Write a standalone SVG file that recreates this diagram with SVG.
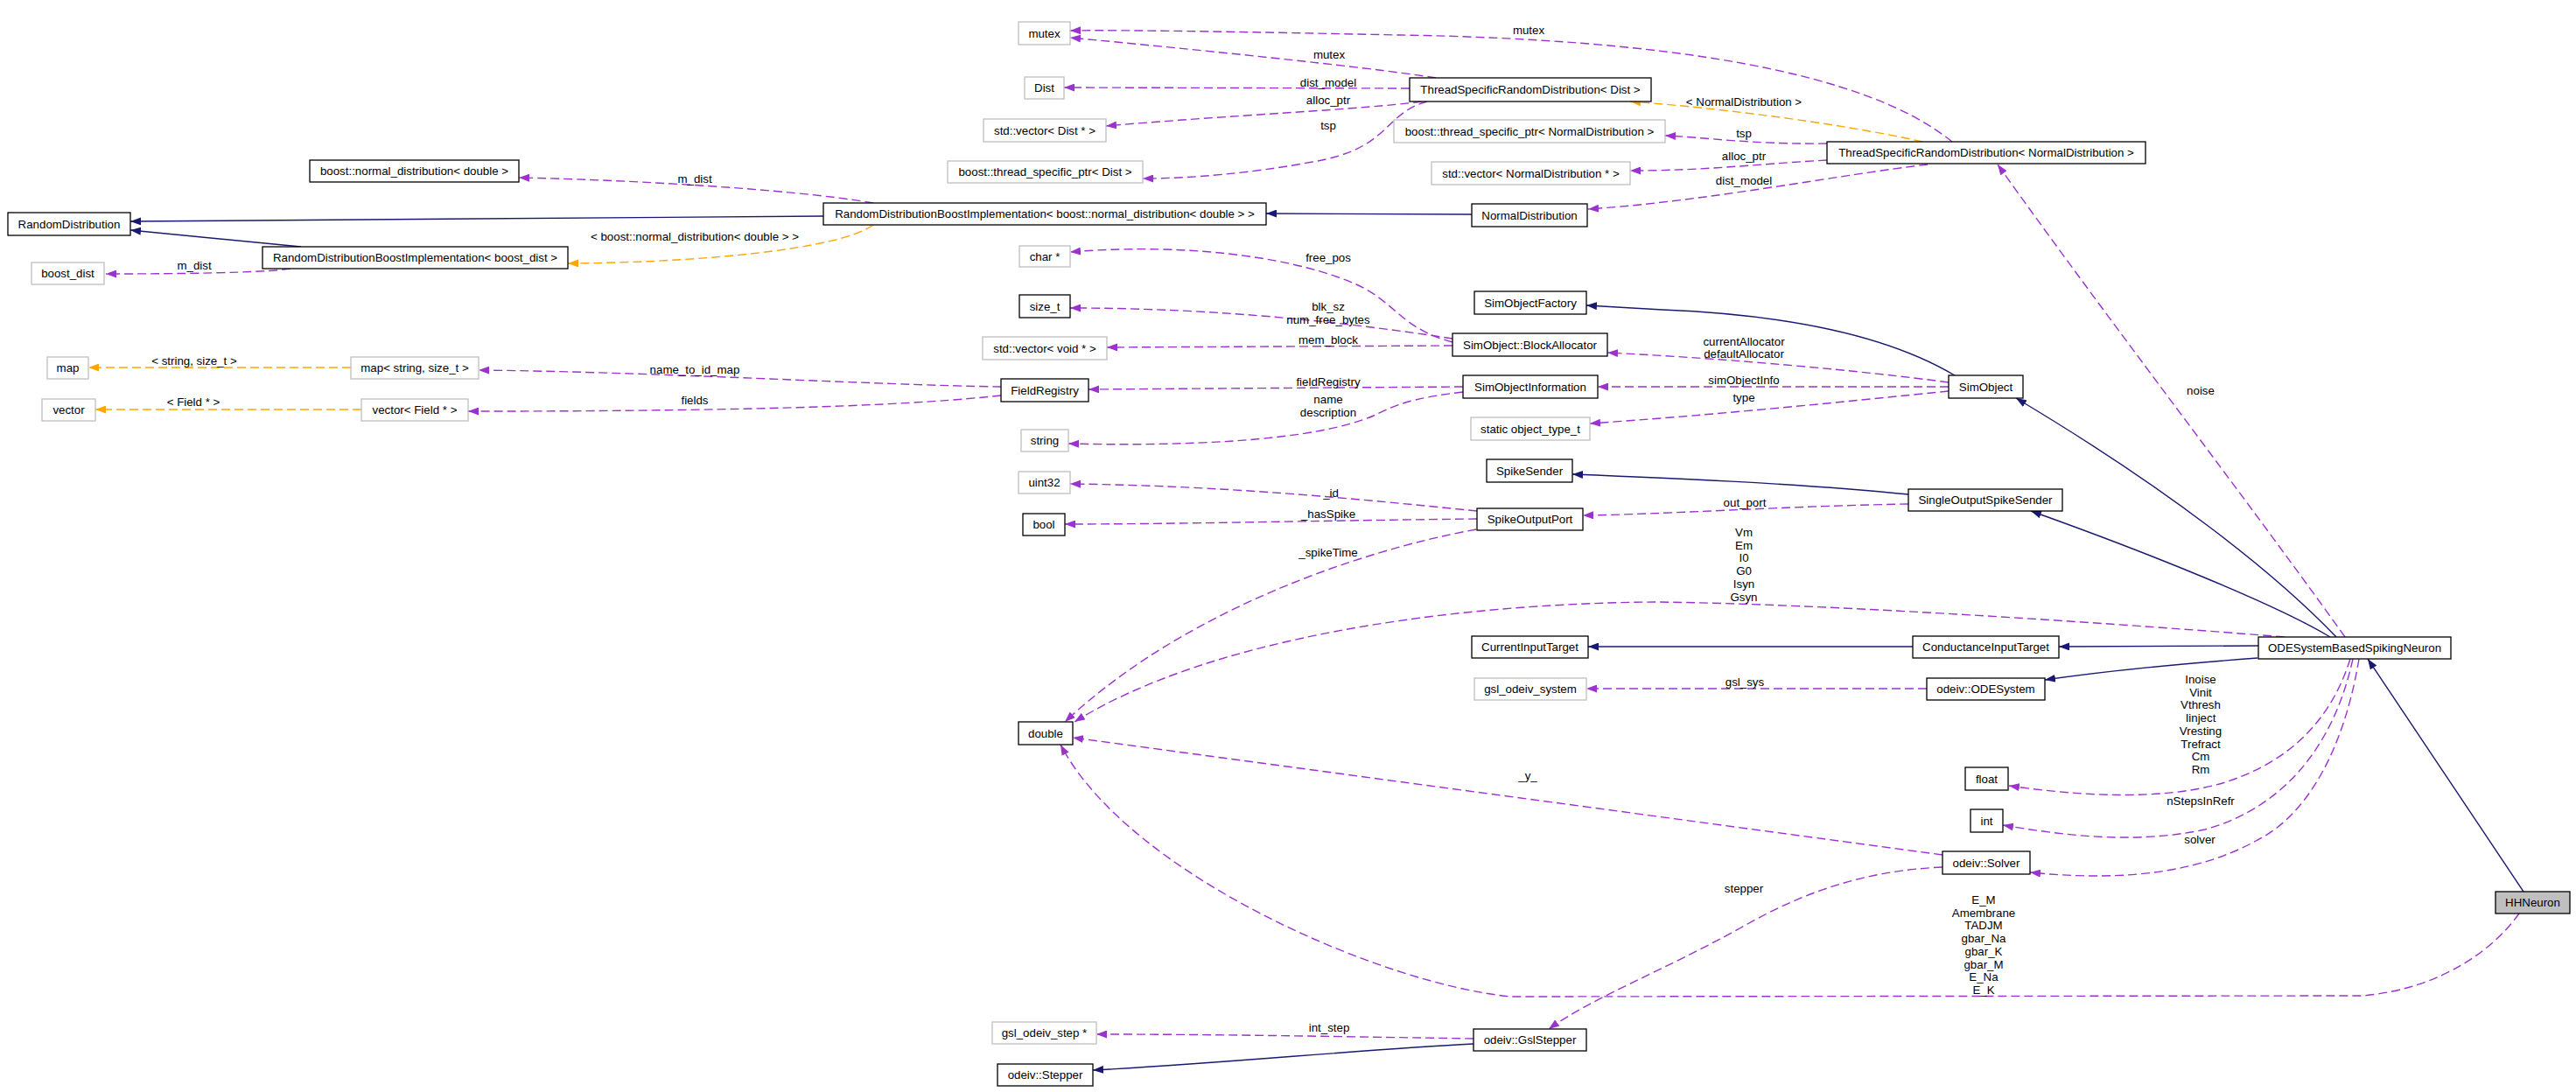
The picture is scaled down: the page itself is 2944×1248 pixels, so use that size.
<svg xmlns="http://www.w3.org/2000/svg" width="2944" height="1248" viewBox="0 0 2944 1248">
<style>
text{font-family:"Liberation Sans",Arial,sans-serif;font-size:13.3px;fill:#000;text-anchor:middle}
.n rect{fill:#fff;stroke:#000;stroke-width:1.3}
.g rect{fill:#fff;stroke:#bfbfbf;stroke-width:1.3}
.h rect{fill:#bfbfbf;stroke:#000;stroke-width:1.3}
.inh{fill:none;stroke:#191970;stroke-width:1.4;marker-end:url(#an)}
.use{fill:none;stroke:#9a32cd;stroke-width:1.4;stroke-dasharray:10,5;marker-end:url(#ap)}
.tpl{fill:none;stroke:#ffa500;stroke-width:1.4;stroke-dasharray:10,5;marker-end:url(#ao)}
</style>
<defs>
<marker id="an" viewBox="0 0 12 9" refX="12" refY="4.5" markerWidth="12" markerHeight="9" markerUnits="userSpaceOnUse" orient="auto"><path d="M0,0 L12,4.5 L0,9 z" fill="#191970"/></marker>
<marker id="ap" viewBox="0 0 12 9" refX="12" refY="4.5" markerWidth="12" markerHeight="9" markerUnits="userSpaceOnUse" orient="auto"><path d="M0,0 L12,4.5 L0,9 z" fill="#9a32cd"/></marker>
<marker id="ao" viewBox="0 0 12 9" refX="12" refY="4.5" markerWidth="12" markerHeight="9" markerUnits="userSpaceOnUse" orient="auto"><path d="M0,0 L12,4.5 L0,9 z" fill="#ffa500"/></marker>
</defs>
<rect width="2944" height="1248" fill="#fff"/>
<g id="edges">
<path class="inh" d="M941,247 L149,253"/>
<path class="inh" d="M344,282 L149,263"/>
<path class="use" d="M332,307 C300,312 200,313 121,313"/>
<path class="use" d="M998,232 C900,215 700,205 593,203"/>
<path class="tpl" d="M998,257 C960,285 800,300 649,301"/>
<path class="inh" d="M1682,245 L1447,244"/>
<path class="use" d="M1641,89 C1560,76 1350,55 1223,43"/>
<path class="use" d="M2231,162 C2130,80 1900,45 1600,40 C1450,37 1300,34 1223,35"/>
<path class="use" d="M1611,101 L1216,100"/>
<path class="use" d="M1625,116 C1560,125 1400,132 1264,144"/>
<path class="use" d="M1631,116 C1580,130 1590,170 1500,185 C1430,198 1360,204 1306,204"/>
<path class="tpl" d="M2197,162 C2100,140 1950,122 1863,116"/>
<path class="use" d="M2088,164 C2000,165 1950,157 1903,155"/>
<path class="use" d="M2088,183 C2000,188 1950,195 1863,195"/>
<path class="use" d="M2203,188 C2100,200 1950,230 1815,239"/>
<path class="use" d="M2680,728 C2560,560 2420,380 2283,188"/>
<path class="use" d="M1144,442 C1000,440 750,425 547,423"/>
<path class="use" d="M1144,452 C1050,462 900,470 535,470"/>
<path class="tpl" d="M401,420 L101,420"/>
<path class="tpl" d="M413,468 L109,468"/>
<path class="use" d="M1660,391 C1600,375 1595,345 1550,325 C1490,298 1370,276 1223,288"/>
<path class="use" d="M1660,387 C1550,370 1400,352 1223,352"/>
<path class="use" d="M1660,395 L1265,397"/>
<path class="use" d="M1672,442 L1244,445"/>
<path class="use" d="M1672,448 C1610,455 1590,465 1570,475 C1500,505 1350,510 1221,507"/>
<path class="inh" d="M2234,429 C2160,385 2050,360 1900,354 L1813,349"/>
<path class="use" d="M2227,437 C2130,424 1980,410 1837,403"/>
<path class="use" d="M2227,442 L1826,442"/>
<path class="use" d="M2227,447 C2100,460 1950,475 1817,484"/>
<path class="inh" d="M2670,728 C2600,655 2480,560 2304,455"/>
<path class="inh" d="M2663,728 C2600,690 2450,630 2321,584"/>
<path class="inh" d="M2181,565 C2050,552 1900,546 1797,542"/>
<path class="use" d="M2181,576 C2050,578 1900,588 1809,589"/>
<path class="use" d="M1688,584 C1550,570 1400,555 1223,553"/>
<path class="use" d="M1688,593 C1500,595 1350,599 1217,599"/>
<path class="use" d="M1687,605 C1550,630 1350,700 1217,825"/>
<path class="use" d="M2611,728 C2450,715 2100,690 1891,688 C1650,690 1380,730 1228,825"/>
<path class="inh" d="M2581,738 L2353,739"/>
<path class="inh" d="M2186,739 L1815,739"/>
<path class="inh" d="M2580,752 C2500,758 2420,765 2337,777"/>
<path class="use" d="M2202,787 L1813,787"/>
<path class="use" d="M2686,753 C2665,820 2620,870 2540,895 C2470,915 2380,910 2296,898"/>
<path class="use" d="M2689,753 C2670,840 2620,920 2520,948 C2440,965 2360,955 2289,943"/>
<path class="use" d="M2696,753 C2680,850 2640,930 2580,960 C2500,1005 2400,1005 2320,997"/>
<path class="inh" d="M2884,1019 L2706,753"/>
<path class="use" d="M2879,1044 C2850,1085 2790,1130 2700,1138 L1727,1139 C1580,1125 1290,1000 1212,851"/>
<path class="use" d="M2220,977 L1226,843"/>
<path class="use" d="M2220,991 C2130,995 2060,1020 1990,1060 C1900,1110 1820,1140 1770,1176"/>
<path class="use" d="M1684,1187 C1550,1185 1400,1182 1253,1182"/>
<path class="inh" d="M1684,1193 C1550,1200 1400,1215 1249,1223"/>
</g>
<g id="edge-labels">
<text x="794" y="209">m_dist</text>
<text x="794" y="275">&lt; boost::normal_distribution&lt; double &gt; &gt;</text>
<text x="222" y="308">m_dist</text>
<text x="1747" y="39">mutex</text>
<text x="1519" y="67">mutex</text>
<text x="1518" y="99">dist_model</text>
<text x="1518" y="119">alloc_ptr</text>
<text x="1518" y="148">tsp</text>
<text x="1993" y="121">&lt; NormalDistribution &gt;</text>
<text x="1993" y="157">tsp</text>
<text x="1993" y="183">alloc_ptr</text>
<text x="1993" y="211">dist_model</text>
<text x="2515" y="451">noise</text>
<text x="222" y="417">&lt; string, size_t &gt;</text>
<text x="221" y="464">&lt; Field * &gt;</text>
<text x="794" y="427">name_to_id_map</text>
<text x="794" y="462">fields</text>
<text x="1518" y="299">free_pos</text>
<text x="1518" y="355">blk_sz<tspan x="1518" dy="14.5">num_free_bytes</tspan></text>
<text x="1518" y="393">mem_block</text>
<text x="1518" y="441">fieldRegistry</text>
<text x="1518" y="461">name<tspan x="1518" dy="14.5">description</tspan></text>
<text x="1521" y="568">_id</text>
<text x="1518" y="592">_hasSpike</text>
<text x="1518" y="636">_spikeTime</text>
<text x="1993" y="395">currentAllocator<tspan x="1993" dy="14">defaultAllocator</tspan></text>
<text x="1993" y="439">simObjectInfo</text>
<text x="1993" y="459">type</text>
<text x="1994" y="579">out_port</text>
<text x="1993" y="613">Vm<tspan x="1993" dy="14.7">Em</tspan><tspan x="1993" dy="14.7">I0</tspan><tspan x="1993" dy="14.7">G0</tspan><tspan x="1993" dy="14.7">Isyn</tspan><tspan x="1993" dy="14.7">Gsyn</tspan></text>
<text x="1994" y="784">gsl_sys</text>
<text x="2515" y="781">Inoise<tspan x="2515" dy="14.7">Vinit</tspan><tspan x="2515" dy="14.7">Vthresh</tspan><tspan x="2515" dy="14.7">Iinject</tspan><tspan x="2515" dy="14.7">Vresting</tspan><tspan x="2515" dy="14.7">Trefract</tspan><tspan x="2515" dy="14.7">Cm</tspan><tspan x="2515" dy="14.7">Rm</tspan></text>
<text x="2515" y="920">nStepsInRefr</text>
<text x="2514" y="964">solver</text>
<text x="1746" y="891">_y_</text>
<text x="1993" y="1020">stepper</text>
<text x="2267" y="1033">E_M<tspan x="2267" dy="14.7">Amembrane</tspan><tspan x="2267" dy="14.7">TADJM</tspan><tspan x="2267" dy="14.7">gbar_Na</tspan><tspan x="2267" dy="14.7">gbar_K</tspan><tspan x="2267" dy="14.7">gbar_M</tspan><tspan x="2267" dy="14.7">E_Na</tspan><tspan x="2267" dy="14.7">E_K</tspan></text>
<text x="1519" y="1179">int_step</text>
</g>
<g id="RandomDistribution" class="n"><rect x="9" y="243" width="140" height="26"/><text x="79" y="260.5">RandomDistribution</text></g>
<g id="boost_normal_distribution" class="n"><rect x="354" y="183" width="239" height="25"/><text x="473.5" y="200">boost::normal_distribution&lt; double &gt;</text></g>
<g id="RBI_boost_dist" class="n"><rect x="300" y="282" width="349" height="25"/><text x="474.5" y="299">RandomDistributionBoostImplementation&lt; boost_dist &gt;</text></g>
<g id="boost_dist" class="g"><rect x="36" y="300" width="83" height="25"/><text x="77.5" y="317">boost_dist</text></g>
<g id="RBI_normal" class="n"><rect x="941" y="232" width="506" height="25"/><text x="1194" y="249">RandomDistributionBoostImplementation&lt; boost::normal_distribution&lt; double &gt; &gt;</text></g>
<g id="mutex" class="g"><rect x="1164" y="25" width="59" height="26"/><text x="1193.5" y="42.5">mutex</text></g>
<g id="Dist" class="g"><rect x="1171" y="88" width="45" height="25"/><text x="1193.5" y="105">Dist</text></g>
<g id="vector_Dist" class="g"><rect x="1124" y="136" width="140" height="26"/><text x="1194" y="153.5">std::vector&lt; Dist * &gt;</text></g>
<g id="tsp_Dist" class="g"><rect x="1083" y="184" width="223" height="25"/><text x="1194.5" y="201">boost::thread_specific_ptr&lt; Dist &gt;</text></g>
<g id="TSRD_Dist" class="n"><rect x="1611" y="89" width="276" height="27"/><text x="1749" y="107">ThreadSpecificRandomDistribution&lt; Dist &gt;</text></g>
<g id="tsp_Normal" class="g"><rect x="1593" y="137" width="310" height="26"/><text x="1748" y="154.5">boost::thread_specific_ptr&lt; NormalDistribution &gt;</text></g>
<g id="vector_Normal" class="g"><rect x="1636" y="185" width="227" height="26"/><text x="1749.5" y="202.5">std::vector&lt; NormalDistribution * &gt;</text></g>
<g id="NormalDistribution" class="n"><rect x="1682" y="233" width="132" height="26"/><text x="1748" y="250.5">NormalDistribution</text></g>
<g id="TSRD_Normal" class="n"><rect x="2088" y="162" width="364" height="25"/><text x="2270" y="179">ThreadSpecificRandomDistribution&lt; NormalDistribution &gt;</text></g>
<g id="map" class="g"><rect x="54" y="408" width="47" height="25"/><text x="77.5" y="425">map</text></g>
<g id="vector" class="g"><rect x="48" y="456" width="61" height="25"/><text x="78.5" y="473">vector</text></g>
<g id="map_string_size_t" class="g"><rect x="401" y="408" width="146" height="25"/><text x="474" y="425">map&lt; string, size_t &gt;</text></g>
<g id="vector_Field" class="g"><rect x="413" y="456" width="122" height="25"/><text x="474" y="473">vector&lt; Field * &gt;</text></g>
<g id="char_ptr" class="g"><rect x="1165" y="281" width="58" height="24"/><text x="1194" y="297.5">char *</text></g>
<g id="size_t" class="n"><rect x="1165" y="337" width="58" height="26"/><text x="1194" y="354.5">size_t</text></g>
<g id="vector_void" class="g"><rect x="1123" y="385" width="142" height="26"/><text x="1194" y="402.5">std::vector&lt; void * &gt;</text></g>
<g id="FieldRegistry" class="n"><rect x="1144" y="433" width="100" height="26"/><text x="1194" y="450.5">FieldRegistry</text></g>
<g id="string" class="g"><rect x="1167" y="491" width="54" height="25"/><text x="1194" y="508">string</text></g>
<g id="uint32" class="g"><rect x="1164" y="539" width="59" height="25"/><text x="1193.5" y="556">uint32</text></g>
<g id="bool" class="n"><rect x="1169" y="587" width="48" height="25"/><text x="1193" y="604">bool</text></g>
<g id="double" class="n"><rect x="1164" y="825" width="62" height="26"/><text x="1195" y="842.5">double</text></g>
<g id="SimObjectFactory" class="n"><rect x="1685" y="333" width="128" height="26"/><text x="1749" y="350.5">SimObjectFactory</text></g>
<g id="BlockAllocator" class="n"><rect x="1660" y="381" width="177" height="26"/><text x="1748.5" y="398.5">SimObject::BlockAllocator</text></g>
<g id="SimObjectInformation" class="n"><rect x="1672" y="429" width="154" height="26"/><text x="1749" y="446.5">SimObjectInformation</text></g>
<g id="static_object_type_t" class="g"><rect x="1681" y="477" width="136" height="26"/><text x="1749" y="494.5">static object_type_t</text></g>
<g id="SpikeSender" class="n"><rect x="1699" y="525" width="98" height="26"/><text x="1748" y="542.5">SpikeSender</text></g>
<g id="SpikeOutputPort" class="n"><rect x="1688" y="581" width="121" height="25"/><text x="1748.5" y="598">SpikeOutputPort</text></g>
<g id="CurrentInputTarget" class="n"><rect x="1682" y="727" width="133" height="25"/><text x="1748.5" y="744">CurrentInputTarget</text></g>
<g id="gsl_odeiv_system" class="g"><rect x="1685" y="775" width="128" height="25"/><text x="1749" y="792">gsl_odeiv_system</text></g>
<g id="SimObject" class="n"><rect x="2227" y="429" width="85" height="26"/><text x="2269.5" y="446.5">SimObject</text></g>
<g id="SingleOutputSpikeSender" class="n"><rect x="2181" y="559" width="176" height="25"/><text x="2269" y="576">SingleOutputSpikeSender</text></g>
<g id="ConductanceInputTarget" class="n"><rect x="2186" y="727" width="167" height="25"/><text x="2269.5" y="744">ConductanceInputTarget</text></g>
<g id="ODESystem" class="n"><rect x="2202" y="775" width="135" height="25"/><text x="2269.5" y="792">odeiv::ODESystem</text></g>
<g id="ODESystemBasedSpikingNeuron" class="n"><rect x="2581" y="728" width="220" height="25"/><text x="2691" y="745">ODESystemBasedSpikingNeuron</text></g>
<g id="float" class="n"><rect x="2246" y="877" width="49" height="26"/><text x="2270.5" y="894.5">float</text></g>
<g id="int" class="n"><rect x="2252" y="925" width="37" height="26"/><text x="2270.5" y="942.5">int</text></g>
<g id="Solver" class="n"><rect x="2220" y="973" width="100" height="26"/><text x="2270" y="990.5">odeiv::Solver</text></g>
<g id="HHNeuron" class="h"><rect x="2852" y="1019" width="85" height="25"/><text x="2894.5" y="1036">HHNeuron</text></g>
<g id="gsl_odeiv_step" class="g"><rect x="1134" y="1168" width="119" height="25"/><text x="1193.5" y="1185">gsl_odeiv_step *</text></g>
<g id="Stepper" class="n"><rect x="1140" y="1216" width="109" height="25"/><text x="1194.5" y="1233">odeiv::Stepper</text></g>
<g id="GslStepper" class="n"><rect x="1684" y="1176" width="129" height="25"/><text x="1748.5" y="1193">odeiv::GslStepper</text></g>
</svg>
